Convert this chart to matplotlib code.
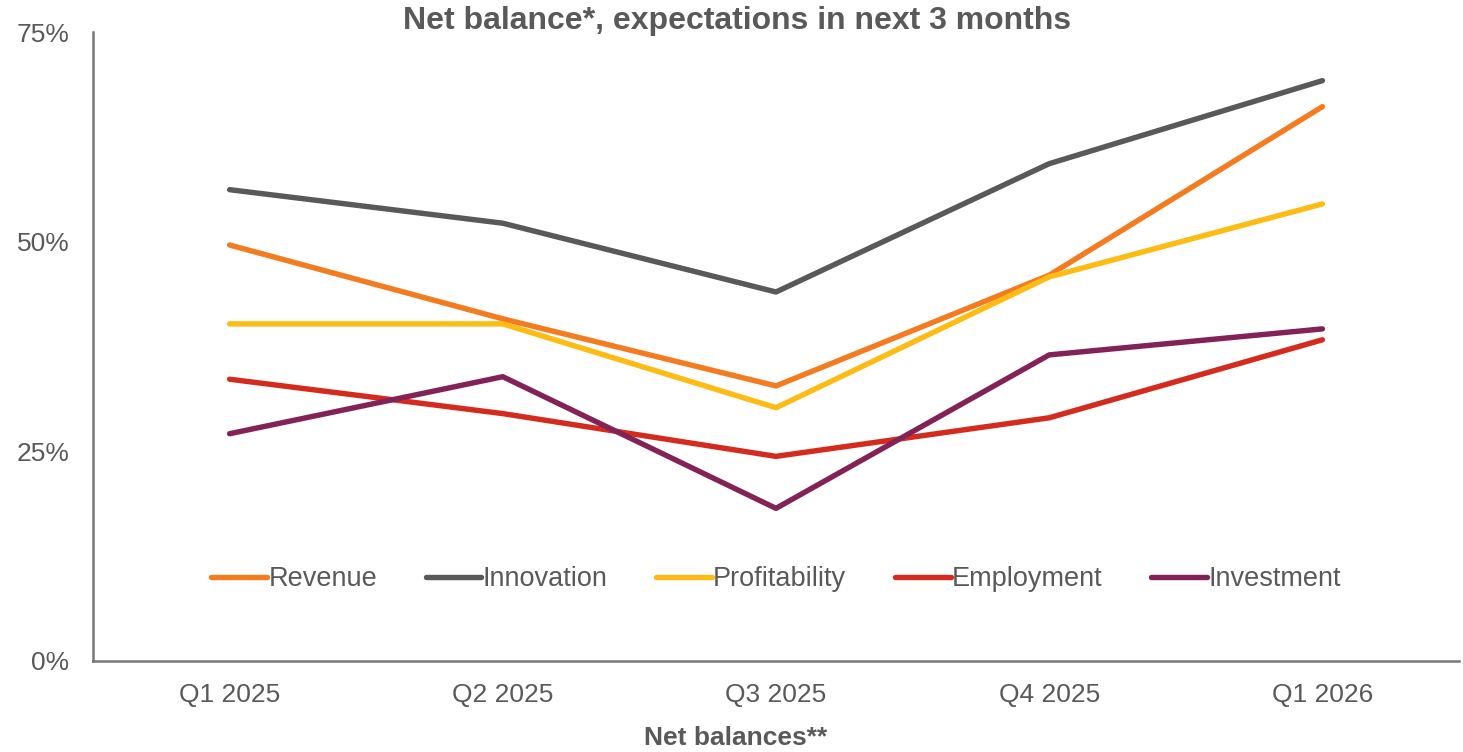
import matplotlib
matplotlib.use('agg')
import matplotlib.pyplot as plt
from matplotlib.ticker import FuncFormatter

plt.rcParams['font.family'] = ['Liberation Sans', 'DejaVu Sans']

quarters = ['Q1 2025', 'Q2 2025', 'Q3 2025', 'Q4 2025', 'Q1 2026']
revenue = [49.6, 40.8, 32.8, 46.0, 66.1]
innovation = [56.2, 52.2, 44.0, 59.3, 69.2]
profitability = [40.2, 40.2, 30.2, 45.8, 54.5]
employment = [33.6, 29.5, 24.4, 29.0, 38.3]
investment = [27.1, 33.9, 18.2, 36.5, 39.6]

series = [
    ('Revenue', revenue, '#F47B20'),
    ('Innovation', innovation, '#595959'),
    ('Profitability', profitability, '#FDBB14'),
    ('Employment', employment, '#D52B1E'),
    ('Investment', investment, '#822257'),
]

text_col = '#595959'

fig = plt.figure(figsize=(14.63, 7.52), dpi=100)
ax = fig.add_axes([93 / 1463, 91 / 752, 1366 / 1463, 629 / 752])

x = range(len(quarters))
for name, vals, col in series:
    ax.plot(x, vals, color=col, lw=3.9, label=name, solid_capstyle='round')

ax.set_xlim(-0.5, 4.5)
ax.set_ylim(0, 75)
ax.set_yticks([0, 25, 50, 75])
ax.yaxis.set_major_formatter(FuncFormatter(lambda v, p: f'{v:.0f}%'))
ax.set_xticks(list(x))
ax.set_xticklabels(quarters)
ax.tick_params(length=0, labelsize=19, colors=text_col, pad=16)
ax.tick_params(axis='y', pad=17)

for s in ['top', 'right']:
    ax.spines[s].set_visible(False)
for s in ['left', 'bottom']:
    ax.spines[s].set_color('#767676')
    ax.spines[s].set_linewidth(1.8)

leg = ax.legend(loc='center', bbox_to_anchor=(0.5, 0.13), ncol=5, frameon=False,
                fontsize=19.5, handlelength=2.05, handletextpad=0.05, columnspacing=1.8)
for t in leg.get_texts():
    t.set_color(text_col)

fig.text(737 / 1463, 1 - 21 / 752, 'Net balance*, expectations in next 3 months',
         ha='center', va='center', fontsize=23, fontweight='bold', color=text_col)
fig.text(736 / 1463, 1 - 738 / 752, 'Net balances**', ha='center', va='center',
         fontsize=19, fontweight='bold', color=text_col)

fig.savefig('out.png', dpi=100)
